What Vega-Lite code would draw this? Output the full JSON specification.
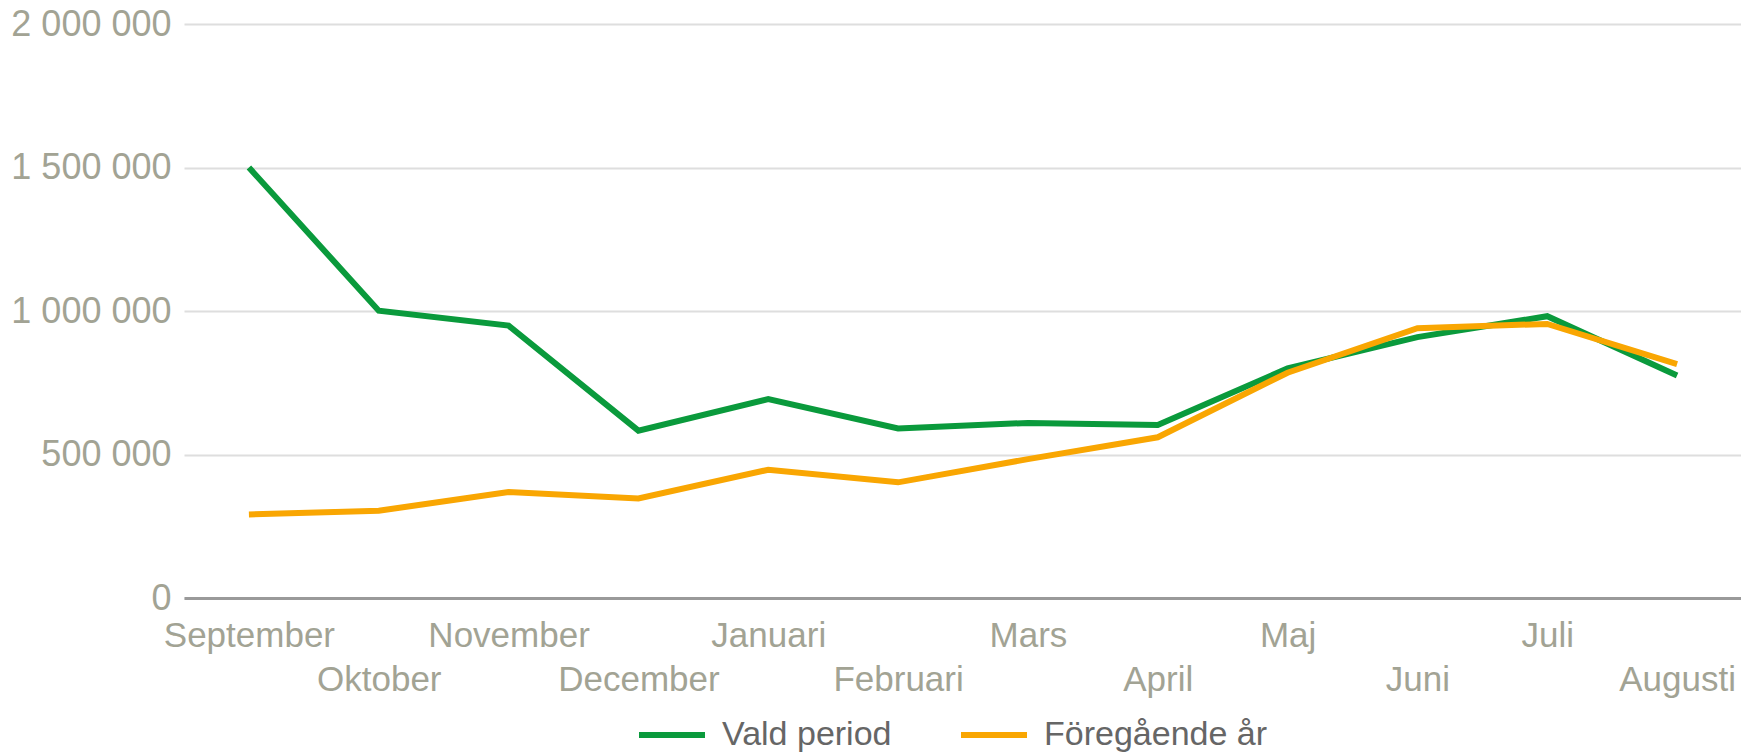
{
  "$schema": "https://vega.github.io/schema/vega-lite/v6.json",
  "width": 1558,
  "height": 574,
  "padding": {"left": 10, "top": 6, "right": 0, "bottom": 0},
  "background": "white",
  "data": {
    "values": [
      {"month": "September", "series": "Vald period", "value": 1500000},
      {"month": "Oktober", "series": "Vald period", "value": 1001000},
      {"month": "November", "series": "Vald period", "value": 949000},
      {"month": "December", "series": "Vald period", "value": 583000},
      {"month": "Januari", "series": "Vald period", "value": 693000},
      {"month": "Februari", "series": "Vald period", "value": 591000},
      {"month": "Mars", "series": "Vald period", "value": 610000},
      {"month": "April", "series": "Vald period", "value": 603000},
      {"month": "Maj", "series": "Vald period", "value": 800000},
      {"month": "Juni", "series": "Vald period", "value": 909000},
      {"month": "Juli", "series": "Vald period", "value": 982000},
      {"month": "Augusti", "series": "Vald period", "value": 775000},
      {"month": "September", "series": "Föregående år", "value": 291000},
      {"month": "Oktober", "series": "Föregående år", "value": 304000},
      {"month": "November", "series": "Föregående år", "value": 369000},
      {"month": "December", "series": "Föregående år", "value": 347000},
      {"month": "Januari", "series": "Föregående år", "value": 447000},
      {"month": "Februari", "series": "Föregående år", "value": 403000},
      {"month": "Mars", "series": "Föregående år", "value": 484000},
      {"month": "April", "series": "Föregående år", "value": 560000},
      {"month": "Maj", "series": "Föregående år", "value": 785000},
      {"month": "Juni", "series": "Föregående år", "value": 940000},
      {"month": "Juli", "series": "Föregående år", "value": 955000},
      {"month": "Augusti", "series": "Föregående år", "value": 815000}
    ]
  },
  "mark": {"type": "line", "strokeWidth": 6, "strokeJoin": "miter"},
  "encoding": {
    "x": {
      "field": "month",
      "type": "nominal",
      "sort": ["September", "Oktober", "November", "December", "Januari", "Februari", "Mars", "April", "Maj", "Juni", "Juli", "Augusti"],
      "scale": {"type": "point", "padding": 0.5},
      "axis": {
        "title": null,
        "labelAngle": 0,
        "labelFont": "Liberation Sans",
        "labelFontSize": 35,
        "labelColor": "#a2a394",
        "labelBaseline": "top",
        "labelPadding": {
          "condition": {"test": "indexof(['Oktober','December','Februari','April','Juni','Augusti'], datum.value) >= 0", "value": 64},
          "value": 20
        },
        "labelOverlap": false,
        "ticks": false,
        "grid": false,
        "domain": true,
        "domainColor": "#9a9a9a",
        "domainWidth": 3
      }
    },
    "y": {
      "field": "value",
      "type": "quantitative",
      "scale": {"domain": [0, 2000000], "nice": false},
      "axis": {
        "title": null,
        "values": [0, 500000, 1000000, 1500000, 2000000],
        "labelExpr": "replace(format(datum.value, ','), regexp(',', 'g'), ' ')",
        "labelFont": "Liberation Sans",
        "labelFontSize": 36,
        "labelColor": "#a2a394",
        "labelPadding": 13,
        "ticks": false,
        "domain": false,
        "grid": true,
        "gridColor": "#dedede",
        "gridWidth": 2
      }
    },
    "color": {
      "field": "series",
      "type": "nominal",
      "scale": {"domain": ["Vald period", "Föregående år"], "range": ["#0a9a3c", "#f9a602"]},
      "legend": {
        "title": null,
        "orient": "none",
        "direction": "horizontal",
        "legendX": 452,
        "legendY": 675,
        "symbolType": "stroke",
        "symbolSize": 4356,
        "symbolStrokeWidth": 6,
        "labelFont": "Liberation Sans",
        "labelFontSize": 34,
        "labelColor": "#666666",
        "labelOffset": 14,
        "columnPadding": 57,
        "labelLimit": 400
      }
    }
  },
  "config": {
    "view": {"stroke": null}
  }
}
